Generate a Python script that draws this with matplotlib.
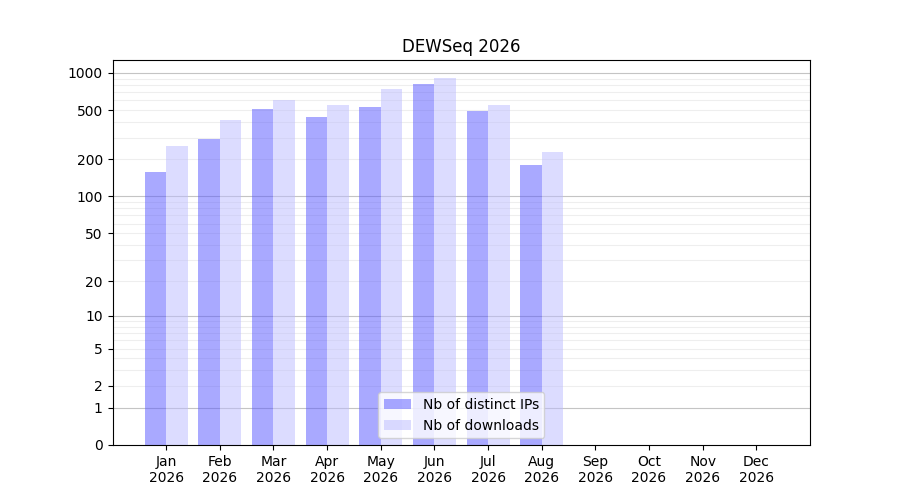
import numpy as np
import matplotlib
matplotlib.use("Agg")
import matplotlib.pyplot as plt

months = ["Jan", "Feb", "Mar", "Apr", "May", "Jun", "Jul", "Aug", "Sep", "Oct", "Nov", "Dec"]
year = "2026"
distinct_ips = [158, 293, 512, 441, 531, 814, 493, 180]
downloads = [257, 417, 604, 551, 742, 911, 551, 230]
ytick_values = [0, 1, 2, 5, 10, 20, 50, 100, 200, 500, 1000]
major_grid_values = [1, 10, 100, 1000]
minor_grid_values = [v * m for m in (1, 10, 100) for v in range(2, 10)]

def tr(v):
    return np.log10(1 + np.asarray(v, dtype=float))

fig, ax = plt.subplots(figsize=(9, 5), dpi=100)
x = np.arange(1, len(months) + 1)
n = len(distinct_ips)

for v in minor_grid_values:
    ax.axhline(tr(v), color="#eeeeee", lw=0.8, zorder=0)
for v in major_grid_values:
    ax.axhline(tr(v), color="#c4c4c4", lw=0.8, zorder=0)

ax.bar(x[:n], tr(distinct_ips), width=-0.4, align="edge", color="#5555ff", alpha=0.5,
       label="Nb of distinct IPs", zorder=2)
ax.bar(x[:n], tr(downloads), width=0.4, align="edge", color="#bbbbff", alpha=0.5,
       label="Nb of downloads", zorder=2)

ax.set_xlim(0, 13)
ax.set_ylim(0, 3.105)
ax.set_xticks(x)
ax.set_xticklabels([f"{m}\n{year}" for m in months])
ax.set_yticks(tr(ytick_values))
ax.set_yticklabels([str(v) for v in ytick_values])
ax.set_title("DEWSeq 2026")
ax.legend(loc="lower center")

fig.savefig("out.png", dpi=100)
